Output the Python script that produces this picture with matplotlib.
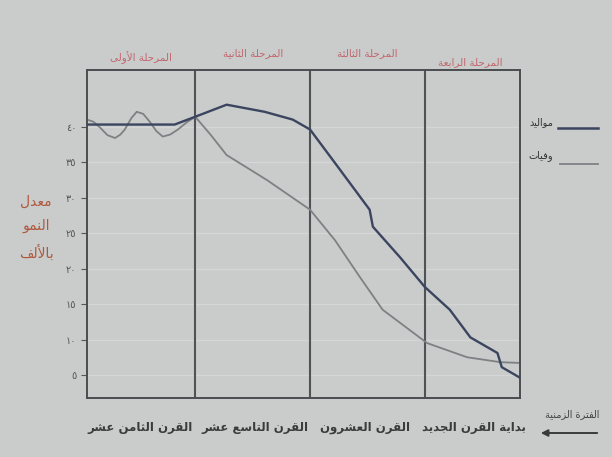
import matplotlib
matplotlib.use("Agg")
import matplotlib.pyplot as plt

# ---- بيانات المنحنيين (مقروءة من الصورة) ----
x_mawalid = [0.0, 0.81, 1.0, 1.29, 1.64, 1.90, 2.06, 2.27, 2.61, 2.64, 2.89, 3.12, 3.35, 3.54, 3.79, 3.83, 4.0]
y_mawalid = [40.3, 40.3, 41.4, 43.1, 42.1, 41.0, 39.6, 35.3, 28.3, 25.9, 21.6, 17.4, 14.2, 10.3, 8.1, 6.1, 4.6]

x_wafayat = [0.0, 0.06, 0.12, 0.19, 0.26, 0.31, 0.35, 0.41, 0.46, 0.52, 0.58, 0.64, 0.70, 0.77, 0.84,
             0.92, 1.0, 1.14, 1.29, 1.66, 2.06, 2.29, 2.52, 2.73, 3.14, 3.51, 3.82, 4.0]
y_wafayat = [41.0, 40.7, 39.9, 38.8, 38.4, 38.9, 39.6, 41.2, 42.1, 41.8, 40.7, 39.4, 38.6, 38.9, 39.6,
             40.6, 41.4, 38.9, 36.0, 32.5, 28.3, 24.0, 18.8, 14.2, 9.5, 7.5, 6.8, 6.7]

hudud_marahil = [1.0, 2.06, 3.12]
yticks = [5, 10, 15, 20, 25, 30, 35, 40]
ytick_labels = ["٥", "١٠", "١٥", "٢٠", "٢٥", "٣٠", "٣٥", "٤٠"]

marahil = ["المرحلة الأولى", "المرحلة الثانية", "المرحلة الثالثة", "المرحلة الرابعة"]
qurun = ["القرن الثامن عشر", "القرن التاسع عشر", "القرن العشرون", "بداية القرن الجديد"]

# ---- تشكيل الحروف العربية يدويا (matplotlib لا يشكل العربية) ----
FORMS = {
    "ا": (0xFE8D, 0xFE8E, None, None), "أ": (0xFE83, 0xFE84, None, None),
    "ب": (0xFE8F, 0xFE90, 0xFE91, 0xFE92), "ة": (0xFE93, 0xFE94, None, None),
    "ت": (0xFE95, 0xFE96, 0xFE97, 0xFE98), "ث": (0xFE99, 0xFE9A, 0xFE9B, 0xFE9C),
    "ج": (0xFE9D, 0xFE9E, 0xFE9F, 0xFEA0), "ح": (0xFEA1, 0xFEA2, 0xFEA3, 0xFEA4),
    "د": (0xFEA9, 0xFEAA, None, None), "ر": (0xFEAD, 0xFEAE, None, None),
    "ز": (0xFEAF, 0xFEB0, None, None), "س": (0xFEB1, 0xFEB2, 0xFEB3, 0xFEB4),
    "ش": (0xFEB5, 0xFEB6, 0xFEB7, 0xFEB8), "ع": (0xFEC9, 0xFECA, 0xFECB, 0xFECC),
    "ف": (0xFED1, 0xFED2, 0xFED3, 0xFED4), "ق": (0xFED5, 0xFED6, 0xFED7, 0xFED8),
    "ل": (0xFEDD, 0xFEDE, 0xFEDF, 0xFEE0), "م": (0xFEE1, 0xFEE2, 0xFEE3, 0xFEE4),
    "ن": (0xFEE5, 0xFEE6, 0xFEE7, 0xFEE8), "و": (0xFEED, 0xFEEE, None, None),
    "ى": (0xFEEF, 0xFEF0, None, None), "ي": (0xFEF1, 0xFEF2, 0xFEF3, 0xFEF4),
}
LAM_ALEF = {"ا": (0xFEFB, 0xFEFC), "أ": (0xFEF7, 0xFEF8)}


def ar(text):
    out = []
    i = 0
    while i < len(text):
        c = text[i]
        if c not in FORMS:
            out.append(c)
            i += 1
            continue
        prev = text[i - 1] if i > 0 else ""
        joins_prev = prev in FORMS and FORMS[prev][2] is not None
        nxt = text[i + 1] if i + 1 < len(text) else ""
        if c == "ل" and nxt in LAM_ALEF:
            out.append(chr(LAM_ALEF[nxt][1 if joins_prev else 0]))
            i += 2
            continue
        joins_next = FORMS[c][2] is not None and nxt in FORMS
        iso, fin, ini, med = FORMS[c]
        if joins_prev and joins_next:
            out.append(chr(med))
        elif joins_prev:
            out.append(chr(fin))
        elif joins_next:
            out.append(chr(ini))
        else:
            out.append(chr(iso))
        i += 1
    return "".join(out)[::-1]


bg = "#c9cccb"
fig = plt.figure(figsize=(6.12, 4.57), dpi=100, facecolor=bg)
ax = fig.add_axes([0.142, 0.129, 0.708, 0.718], facecolor=bg)

for y in yticks:
    ax.axhline(y, color="#d4d7d6", lw=0.9, zorder=0)
for xb in hudud_marahil:
    ax.axvline(xb, color="#505356", lw=1.5, zorder=1)

ax.plot(x_wafayat, y_wafayat, color="#7d8183", lw=1.3, zorder=2)
ax.plot(x_mawalid, y_mawalid, color="#3c4560", lw=1.7, zorder=3)

ax.set_xlim(0, 4)
ax.set_ylim(1.75, 48)
ax.set_xticks([])
ax.set_yticks(yticks)
ax.set_yticklabels(ytick_labels, fontsize=7, color="#555555")
ax.tick_params(axis="y", length=4, width=0.8, color="#555555")
for s in ax.spines.values():
    s.set_color("#4a4d50")
    s.set_linewidth(1.4)

# عناوين المراحل
stage_x = [141, 253, 367, 470]
stage_y = [58, 53, 53, 62]
for lbl, px, py in zip(marahil, stage_x, stage_y):
    fig.text(px / 612, 1 - py / 457, ar(lbl), ha="center", va="center",
             fontsize=7.5, color="#c2656d")

# القرون أسفل الرسم
cent_x = [140, 255, 365, 474]
for lbl, px in zip(qurun, cent_x):
    fig.text(px / 612, 1 - 427 / 457, ar(lbl), ha="center", va="center",
             fontsize=8.5, color="#3b3b3b", fontweight="bold")

fig.text(572 / 612, 1 - 414 / 457, ar("الفترة الزمنية"), ha="center", va="center",
         fontsize=7, color="#444444")
fig.patches.append(matplotlib.patches.FancyArrowPatch(
    (600 / 612, 1 - 433 / 457), (538 / 612, 1 - 433 / 457), transform=fig.transFigure,
    arrowstyle="-|>", mutation_scale=10, color="#3b3b3b", lw=1.4))

# عنوان المحور الرأسي
fig.text(36 / 612, 1 - 228 / 457, "\n".join([ar("معدل"), ar("النمو"), ar("بالألف")]),
         ha="center", va="center", fontsize=10, color="#b0573c", linespacing=1.9)

# مفتاح الرسم
fig.text(541 / 612, 1 - 122 / 457, ar("مواليد"), ha="center", va="center", fontsize=7, color="#333333")
fig.text(541 / 612, 1 - 156 / 457, ar("وفيات"), ha="center", va="center", fontsize=7, color="#333333")
fig.add_artist(matplotlib.lines.Line2D([558 / 612, 598 / 612], [1 - 128 / 457, 1 - 128 / 457],
                                       color="#3c4560", lw=1.8))
fig.add_artist(matplotlib.lines.Line2D([560 / 612, 598 / 612], [1 - 164 / 457, 1 - 164 / 457],
                                       color="#7d8183", lw=1.3))

fig.savefig("out.png", dpi=100, facecolor=bg)
